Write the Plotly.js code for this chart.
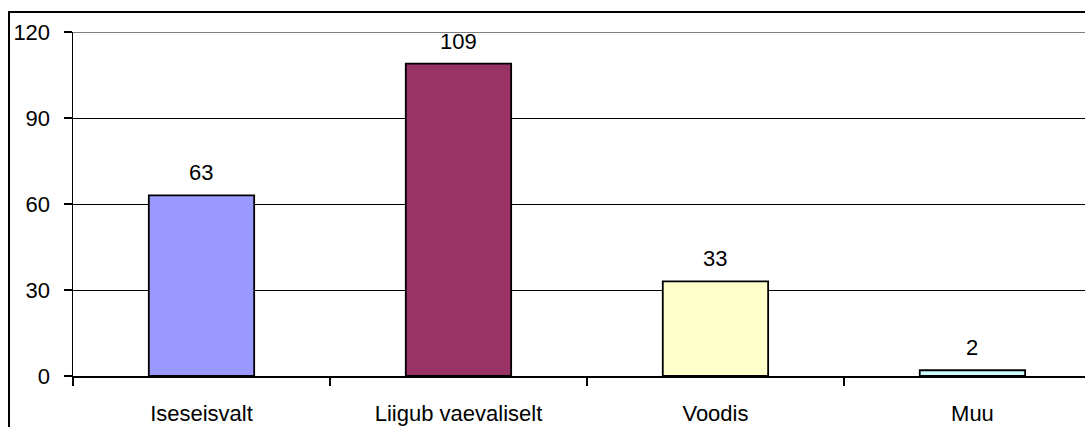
<!DOCTYPE html>
<html>
<head>
<meta charset="utf-8">
<script src="https://cdn.plot.ly/plotly-3.0.1.min.js"></script>
<style>
html,body{margin:0;padding:0;background:#fff;overflow:hidden;}
#chart{width:1085px;height:427px;}
#frame{position:absolute;left:8px;top:11px;width:1200px;height:600px;border:2px solid #000;pointer-events:none;box-sizing:border-box;}
</style>
</head>
<body>
<div id="chart"></div>
<div id="frame"></div>
<script>
const categories = ["Iseseisvalt", "Liigub vaevaliselt", "Voodis", "Muu"];
const values = [63, 109, 33, 2];
const barColors = ["#9999FF", "#993366", "#FFFFCC", "#CCFFFF"];
const yTicks = [0, 30, 60, 90, 120];

const fontFam = "Liberation Sans, Arial, sans-serif";
const fs = 22;

const trace = {
  type: "bar",
  x: categories,
  y: values,
  marker: {color: barColors, line: {color: "#000", width: 1.8}},
  hoverinfo: "skip"
};

const annotations = categories.map((c, i) => ({
  x: c, y: values[i], xref: "x", yref: "y",
  text: String(values[i]), showarrow: false,
  yanchor: "bottom", yshift: 8,
  font: {family: fontFam, size: fs, color: "#000"}
}));

const layout = {
  width: 1085, height: 427,
  margin: {l: 73, r: 0, t: 32, b: 51},
  paper_bgcolor: "rgba(0,0,0,0)", plot_bgcolor: "#fff",
  showlegend: false,
  bargap: 0.59,
  font: {family: fontFam, size: fs, color: "#000"},
  xaxis: {
    type: "category",
    range: [-0.5, 3.438],
    tickson: "boundaries",
    ticks: "outside", ticklen: 8, tickwidth: 1.5, tickcolor: "#000",
    showline: true, linecolor: "#000", linewidth: 1.5,
    showgrid: false, zeroline: false,
    ticklabelstandoff: 17,
    tickfont: {family: fontFam, size: fs, color: "#000"}
  },
  yaxis: {
    range: [0, 120],
    tickvals: yTicks,
    ticktext: yTicks.map(String),
    ticks: "outside", ticklen: 8, tickwidth: 1.5, tickcolor: "#000",
    showline: true, linecolor: "#000", linewidth: 1.5,
    showgrid: true, gridcolor: "#000", gridwidth: 1,
    zeroline: false,
    ticklabelstandoff: 9,
    tickfont: {family: fontFam, size: fs, color: "#000"}
  },
  shapes: [{
    type: "line", xref: "paper", yref: "y", x0: 0, x1: 1, y0: yTicks[yTicks.length-1], y1: yTicks[yTicks.length-1],
    line: {color: "#808080", width: 2}
  }],
  annotations: annotations
};

Plotly.newPlot("chart", [trace], layout, {displayModeBar: false, staticPlot: true});
</script>
</body>
</html>
